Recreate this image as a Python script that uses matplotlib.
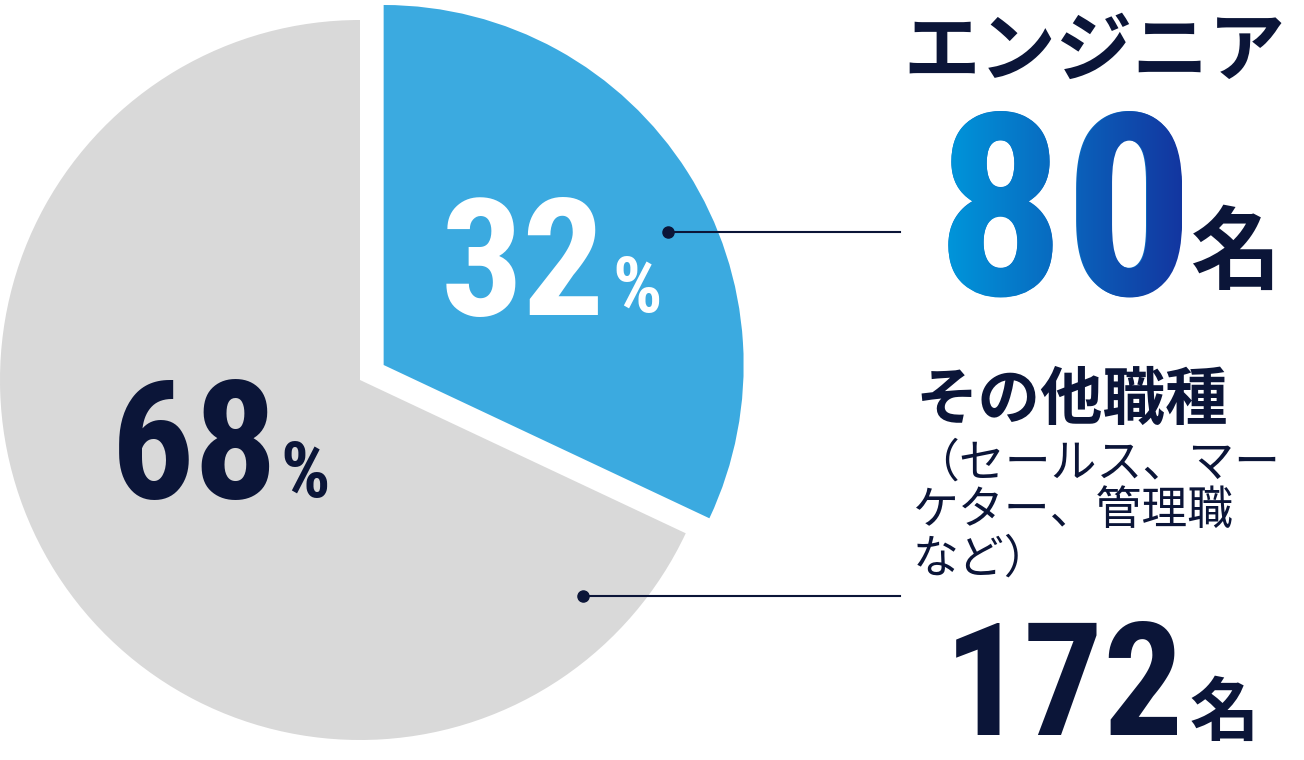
import numpy as np
import matplotlib
matplotlib.use("Agg")
import matplotlib.pyplot as plt
from matplotlib.font_manager import FontProperties
from matplotlib.textpath import TextPath
from matplotlib.patches import PathPatch

# データ
labels = ["エンジニア", "その他職種"]
counts = [80, 172]
shares = [32, 68]
colors = ["#3BAAE0", "#D9D9D9"]
sub_lines = ["（セールス、マー", "ケター、管理職", "など）"]

navy = "#0B1538"
W, H = 1304, 760
num_font = ["Liberation Sans Narrow", "Roboto Condensed", "Roboto", "DejaVu Sans"]
jp_font = ["Noto Sans CJK JP", "DejaVu Sans"]


def Y(y):
    # 画像座標(下向き) -> データ座標(上向き)
    return H - y


fig = plt.figure(figsize=(W / 100, H / 100), dpi=100)
ax = fig.add_axes([0, 0, 1, 1])

# explode はデータ単位 (px)
ax.pie(shares, colors=colors, startangle=90, counterclock=False,
       center=(360, Y(380)), radius=360, explode=[28, 0],
       wedgeprops=dict(linewidth=0))
ax.set_xlim(0, W)
ax.set_ylim(0, H)
ax.set_aspect("equal")
ax.axis("off")

# パーセント表示
ax.text(441, Y(315), f"{shares[0]}", color="white", fontsize=117,
        family=num_font, weight="bold", ha="left", va="baseline")
ax.text(612, Y(312), "%", color="white", fontsize=56,
        family=num_font, weight="bold", ha="left", va="baseline")
ax.text(111, Y(498), f"{shares[1]}", color=navy, fontsize=119,
        family=num_font, weight="bold", ha="left", va="baseline")
ax.text(280, Y(497), "%", color=navy, fontsize=56,
        family=num_font, weight="bold", ha="left", va="baseline")

# 引き出し線
for (x0, y0) in [(668, 232), (583, 596)]:
    ax.plot([x0, 900], [Y(y0), Y(y0)], color=navy, lw=1.5)
    ax.plot([x0], [Y(y0)], "o", color=navy, ms=8)

# エンジニア
ax.text(903, Y(52), labels[0], color=navy, fontsize=55, family=jp_font,
        weight="bold", ha="left", va="center")

# 80 (グラデーション)
fp = FontProperties(family=num_font, weight="bold")
size80 = 255
ax.text(936, Y(295), f"{counts[0]}", color="#0A6FC4", fontsize=size80 * 0.72,
        family=num_font, weight="bold", ha="left", va="baseline")
tp = TextPath((936, Y(295)), f"{counts[0]}", size=size80, prop=fp)
grad = np.linspace(0, 1, 256).reshape(1, -1)
cmap = matplotlib.colors.LinearSegmentedColormap.from_list("g", ["#0095DA", "#1336A0"])
bb = tp.get_extents()
im = ax.imshow(grad, cmap=cmap, extent=[bb.x0, bb.x1, bb.y0, bb.y1],
               aspect="auto", zorder=3)
im.set_clip_path(PathPatch(tp, transform=ax.transData))
ax.set_xlim(0, W)
ax.set_ylim(0, H)

ax.text(1190, Y(282), "名", color=navy, fontsize=65, family=jp_font,
        weight="bold", ha="left", va="baseline")

# その他職種
ax.text(915, Y(400), labels[1], color=navy, fontsize=45, family=jp_font,
        weight="bold", ha="left", va="center")
for i, line in enumerate(sub_lines):
    ax.text(913, Y(463 + 48 * i), line, color=navy, fontsize=33,
            family=jp_font, ha="left", va="center")

ax.text(944, Y(735), f"{counts[1]}", color=navy, fontsize=114,
        family=num_font, weight="bold", ha="left", va="baseline")
ax.text(1190, Y(735), "名", color=navy, fontsize=50, family=jp_font,
        weight="bold", ha="left", va="baseline")

fig.savefig("out.png", dpi=100, facecolor="white")
